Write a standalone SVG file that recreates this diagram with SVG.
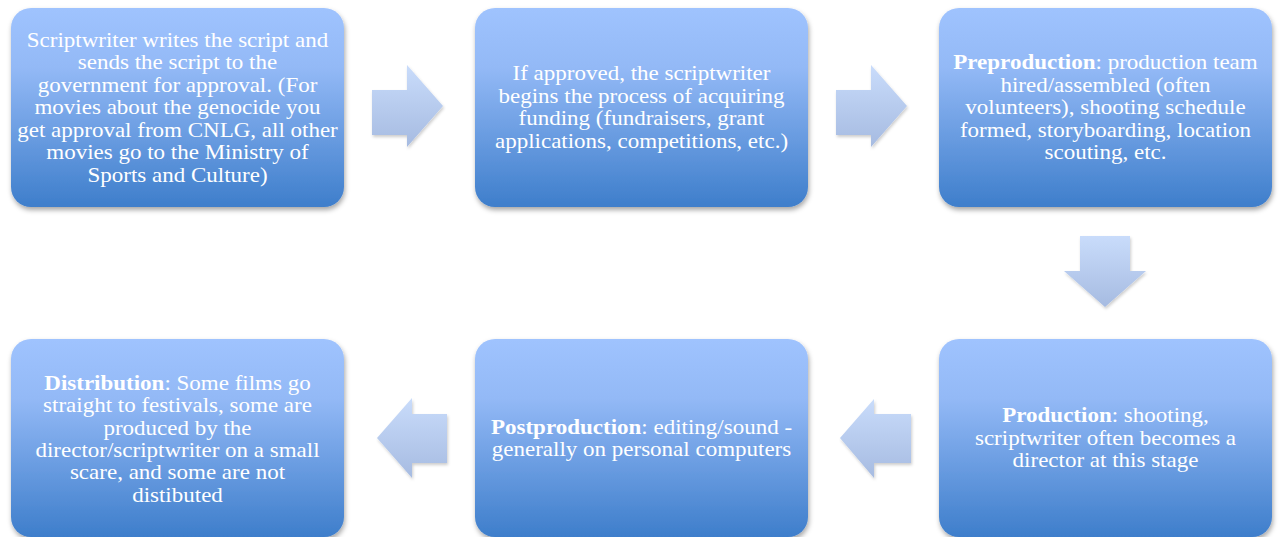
<svg xmlns="http://www.w3.org/2000/svg" width="1280" height="537" viewBox="0 0 1280 537">
<defs>
<linearGradient id="boxGrad" x1="0" y1="0" x2="0" y2="1">
<stop offset="0" stop-color="#9fc3fe"/>
<stop offset="0.3" stop-color="#93b9f6"/>
<stop offset="1" stop-color="#3e7ecb"/>
</linearGradient>
<linearGradient id="arrowGrad" x1="0" y1="0" x2="0" y2="1">
<stop offset="0" stop-color="#c9dcfb"/>
<stop offset="1" stop-color="#a6bbe1"/>
</linearGradient>
<filter id="shadow" x="-10%" y="-10%" width="120%" height="125%">
<feDropShadow dx="1" dy="3" stdDeviation="2.5" flood-color="#000" flood-opacity="0.35"/>
</filter>
<filter id="ashadow" x="-20%" y="-20%" width="140%" height="140%">
<feDropShadow dx="1" dy="2" stdDeviation="1.5" flood-color="#000" flood-opacity="0.2"/>
</filter>
</defs>
<style>
.box{fill:url(#boxGrad);filter:url(#shadow);}
.arrow{fill:url(#arrowGrad);filter:url(#ashadow);}
text{font-family:"Liberation Serif","DejaVu Serif",serif;font-size:20px;fill:#ffffff;text-anchor:middle;}
.b{font-weight:bold;}
</style>
<rect width="1280" height="537" fill="#ffffff"/>
<g id="connectors">
<polygon class="arrow" points="372,90 407,90 407,65 443,106 407,147 407,135 372,135"/>
<polygon class="arrow" points="836,90 871,90 871,65 907,106 871,147 871,135 836,135"/>
<polygon class="arrow" points="1080,236 1130,236 1130,271 1146,271 1105,307 1064,271 1080,271"/>
<polygon class="arrow" points="911,414 874,414 874,399 840,438 874,478 874,463 911,463"/>
<polygon class="arrow" points="447,414 412,414 412,398 377,438 412,478 412,463 447,463"/>
</g>
<g id="node1">
<rect class="box" x="11" y="8" width="333" height="199" rx="20"/>
<g transform="translate(177.5,0) scale(1.15,1)">
<text x="0" y="47">Scriptwriter writes the script and</text>
<text x="0" y="69.5">sends the script to the</text>
<text x="0" y="92">government for approval. (For</text>
<text x="0" y="114.5">movies about the genocide you</text>
<text x="0" y="137">get approval from CNLG, all other</text>
<text x="0" y="159.5">movies go to the Ministry of</text>
<text x="0" y="182">Sports and Culture)</text>
</g>
</g>
<g id="node2">
<rect class="box" x="475" y="8" width="333" height="199" rx="20"/>
<g transform="translate(641.5,0) scale(1.15,1)">
<text x="0" y="80.5">If approved, the scriptwriter</text>
<text x="0" y="103">begins the process of acquiring</text>
<text x="0" y="125.5">funding (fundraisers, grant</text>
<text x="0" y="148">applications, competitions, etc.)</text>
</g>
</g>
<g id="node3">
<rect class="box" x="939" y="8" width="333" height="199" rx="20"/>
<g transform="translate(1105.5,0) scale(1.15,1)">
<text x="0" y="69.5"><tspan class="b">Preproduction</tspan>: production team</text>
<text x="0" y="92">hired/assembled (often</text>
<text x="0" y="114.5">volunteers), shooting schedule</text>
<text x="0" y="137">formed, storyboarding, location</text>
<text x="0" y="159">scouting, etc.</text>
</g>
</g>
<g id="node6">
<rect class="box" x="939" y="339" width="333" height="198" rx="20"/>
<g transform="translate(1105.5,0) scale(1.15,1)">
<text x="0" y="422.5"><tspan class="b">Production</tspan>: shooting,</text>
<text x="0" y="445">scriptwriter often becomes a</text>
<text x="0" y="467.5">director at this stage</text>
</g>
</g>
<g id="node5">
<rect class="box" x="475" y="339" width="333" height="198" rx="20"/>
<g transform="translate(641.5,0) scale(1.15,1)">
<text x="0" y="434"><tspan class="b">Postproduction</tspan>: editing/sound -</text>
<text x="0" y="456.5">generally on personal computers</text>
</g>
</g>
<g id="node4">
<rect class="box" x="11" y="339" width="333" height="198" rx="20"/>
<g transform="translate(177.5,0) scale(1.15,1)">
<text x="0" y="390"><tspan class="b">Distribution</tspan>: Some films go</text>
<text x="0" y="412.5">straight to festivals, some are</text>
<text x="0" y="435">produced by the</text>
<text x="0" y="457">director/scriptwriter on a small</text>
<text x="0" y="479.5">scare, and some are not</text>
<text x="0" y="502">distibuted</text>
</g>
</g>
</svg>
